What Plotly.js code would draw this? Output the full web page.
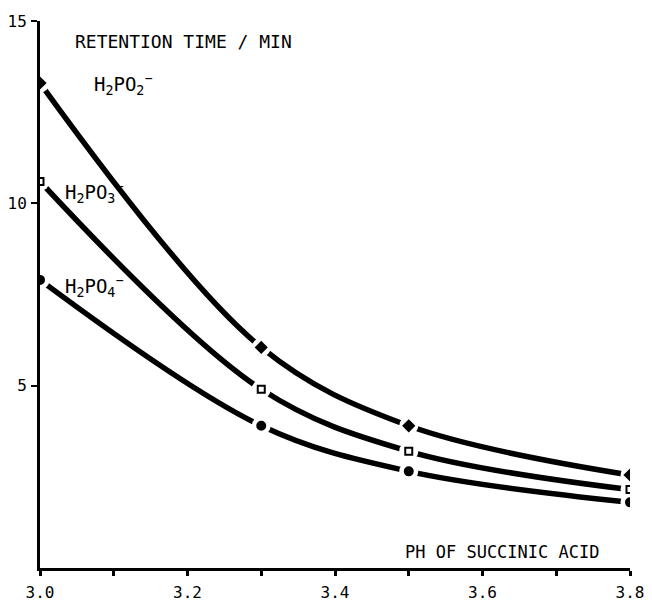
<!DOCTYPE html>
<html>
<head>
<meta charset="utf-8">
<script src="https://cdn.plot.ly/plotly-3.0.1.min.js"></script>
<style>html,body{margin:0;padding:0;background:#fff}#chart{width:652px;height:603px}</style>
</head>
<body>
<div id="chart"></div>
<script>
// pH of succinic acid
const ph = [3.0, 3.3, 3.5, 3.8];
// retention time / min
const h2po2 = [13.3, 6.05, 3.9, 2.55];
const h2po3 = [10.6, 4.9, 3.2, 2.15];
const h2po4 = [7.9, 3.9, 2.65, 1.8];
const seriesNames = ['H<sub>2</sub>PO<sub>2</sub><sup>−</sup>', 'H<sub>2</sub>PO<sub>3</sub><sup>−</sup>', 'H<sub>2</sub>PO<sub>4</sub><sup>−</sup>'];
const xTickVals = [3.0, 3.1, 3.2, 3.3, 3.4, 3.5, 3.6, 3.7, 3.8];
const xTickText = ['3.0', '', '3.2', '', '3.4', '', '3.6', '', '3.8'];
const yTickVals = [5, 10, 15];
const yTickText = ['5', '10', '15'];

const FONT = 'DejaVu Sans Mono, monospace';
const all = [h2po2, h2po3, h2po4];
const symbols = ['diamond', 'square-open', 'circle'];
const traces = [];
all.forEach(function (ys) {
  traces.push({x: ph, y: ys, mode: 'lines', line: {color: '#000', width: 5.5, shape: 'spline', smoothing: 1}, hoverinfo: 'skip'});
});
all.forEach(function (ys) {
  traces.push({x: ph, y: ys, mode: 'markers', marker: {color: '#fff', size: 19, line: {width: 0}}, hoverinfo: 'skip'});
});
all.forEach(function (ys, i) {
  traces.push({x: ph, y: ys, mode: 'markers', name: seriesNames[i],
    marker: {symbol: symbols[i], color: '#000', size: i === 1 ? 7 : 8, line: {color: '#000', width: 2}}});
});

const layout = {
  width: 652, height: 603,
  margin: {l: 40, r: 22, t: 21, b: 35},
  paper_bgcolor: '#fff', plot_bgcolor: '#fff',
  showlegend: false,
  font: {family: FONT, color: '#000', size: 16},
  xaxis: {range: [3.0, 3.8], tickvals: xTickVals, ticktext: xTickText, showgrid: false, zeroline: false,
    showline: true, linecolor: '#000', linewidth: 3, ticks: 'outside', ticklen: 5, tickwidth: 3, tickcolor: '#000',
    tickfont: {family: FONT, size: 16}, ticklabelstandoff: 3},
  yaxis: {range: [0, 15], tickvals: yTickVals, ticktext: yTickText, showgrid: false, zeroline: false,
    showline: true, linecolor: '#000', linewidth: 3, ticks: 'outside', ticklen: 6, tickwidth: 2, tickcolor: '#000',
    tickfont: {family: FONT, size: 16}, ticklabelstandoff: 1},
  annotations: [
    {text: 'RETENTION TIME / MIN', xref: 'paper', yref: 'paper', x: 0.056, y: 0.963, xanchor: 'left', yanchor: 'middle', showarrow: false, font: {family: FONT, size: 18}},
    {text: 'PH OF SUCCINIC ACID', xref: 'paper', yref: 'paper', x: 0.615, y: 0.029, xanchor: 'left', yanchor: 'middle', showarrow: false, font: {family: FONT, size: 17}},
    {text: seriesNames[0], xref: 'paper', yref: 'paper', x: 0.088, y: 0.883, xanchor: 'left', yanchor: 'middle', showarrow: false, font: {family: FONT, size: 19}},
    {text: seriesNames[1], xref: 'paper', yref: 'paper', x: 0.039, y: 0.686, xanchor: 'left', yanchor: 'middle', showarrow: false, font: {family: FONT, size: 19}},
    {text: seriesNames[2], xref: 'paper', yref: 'paper', x: 0.039, y: 0.514, xanchor: 'left', yanchor: 'middle', showarrow: false, font: {family: FONT, size: 19}}
  ]
};
Plotly.newPlot('chart', traces, layout, {displayModeBar: false, staticPlot: true});
</script>
</body>
</html>
